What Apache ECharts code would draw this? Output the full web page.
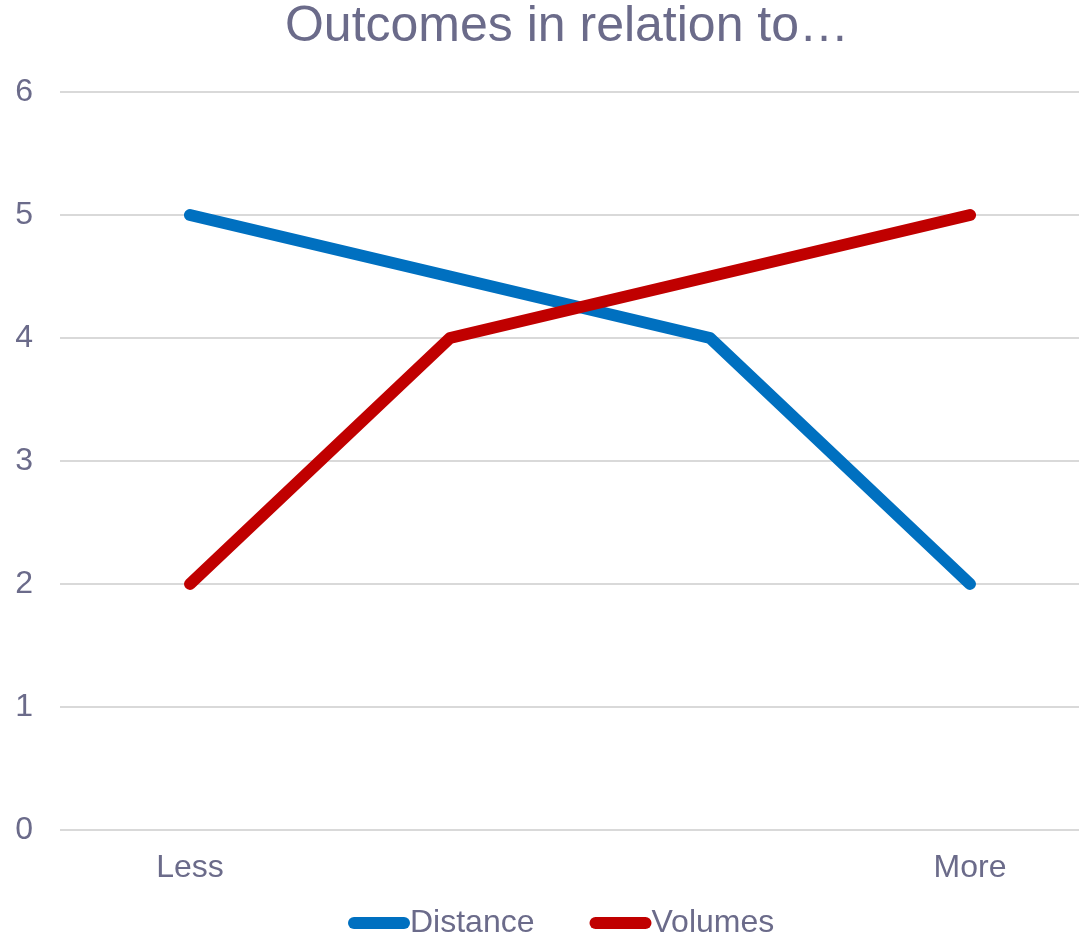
<!DOCTYPE html>
<html>
<head>
<meta charset="utf-8">
<script src="https://cdn.jsdelivr.net/npm/echarts@6/dist/echarts.min.js"></script>
<style>
  html, body { margin: 0; padding: 0; background: #ffffff; }
  #chart { width: 1079px; height: 935px; }
</style>
</head>
<body>
<div id="chart"></div>
<script>
// Categories along the x axis (only the ends are labelled)
const categories = ['Less', '', '', 'More'];
// Series values
const distance = [5, 4.5, 4, 2];
const volumes = [2, 4, 4.5, 5];
// Y axis range
const yMin = 0, yMax = 6, yStep = 1;

const textColor = '#6b6b8a';
const gridColor = '#d9d9d9';
const fontFamily = '"Liberation Sans", Arial, sans-serif';
const capsule = 'path://M6,0 H56 A6,6 0 0 1 56,12 H6 A6,6 0 0 1 6,0 Z';

const chart = echarts.init(document.getElementById('chart'), null, { renderer: 'canvas' });
chart.setOption({
  animation: false,
  backgroundColor: '#ffffff',
  title: {
    text: 'Outcomes in relation to…',
    left: 567,
    textAlign: 'center',
    top: 2,
    padding: 0,
    textStyle: { color: textColor, fontSize: 50, fontWeight: 'normal', fontFamily: fontFamily }
  },
  legend: {
    top: 907,
    left: 348,
    itemWidth: 62,
    itemHeight: 12,
    itemGap: 55,
    padding: 0,
    data: [
      { name: 'Distance', icon: capsule },
      { name: 'Volumes', icon: capsule }
    ],
    textStyle: { color: textColor, fontSize: 32, fontFamily: fontFamily, padding: [0, 0, 0, -5] }
  },
  // Grid 0 carries the full-width gridlines and value labels;
  // grid 1 places the categories at the centre of each band.
  grid: [
    { left: 60, right: 0, top: 92, bottom: 105, containLabel: false },
    { left: 190, right: 109, top: 92, bottom: 105, containLabel: false }
  ],
  xAxis: [
    { gridIndex: 0, type: 'value', show: false, min: 0, max: 1 },
    {
      gridIndex: 1,
      type: 'category',
      data: categories,
      boundaryGap: false,
      axisLine: { show: false },
      axisTick: { show: false },
      axisLabel: { interval: 0, color: textColor, fontSize: 32, fontFamily: fontFamily, margin: 22 },
      splitLine: { show: false }
    }
  ],
  yAxis: [
    {
      gridIndex: 0,
      type: 'value',
      min: yMin, max: yMax, interval: yStep,
      axisLine: { show: false },
      axisTick: { show: false },
      axisLabel: { color: textColor, fontSize: 32, fontFamily: fontFamily, margin: 27 },
      splitLine: { show: true, lineStyle: { color: gridColor, width: 2 } }
    },
    {
      gridIndex: 1,
      type: 'value',
      min: yMin, max: yMax, interval: yStep,
      show: false,
      splitLine: { show: false }
    }
  ],
  series: [
    {
      name: 'Distance', type: 'line', data: distance,
      xAxisIndex: 1, yAxisIndex: 1,
      symbol: 'none', color: '#0070c0',
      lineStyle: { width: 12, cap: 'round', join: 'round', color: '#0070c0' }
    },
    {
      name: 'Volumes', type: 'line', data: volumes,
      xAxisIndex: 1, yAxisIndex: 1,
      symbol: 'none', color: '#c00000',
      lineStyle: { width: 12, cap: 'round', join: 'round', color: '#c00000' }
    }
  ]
});
</script>
</body>
</html>
